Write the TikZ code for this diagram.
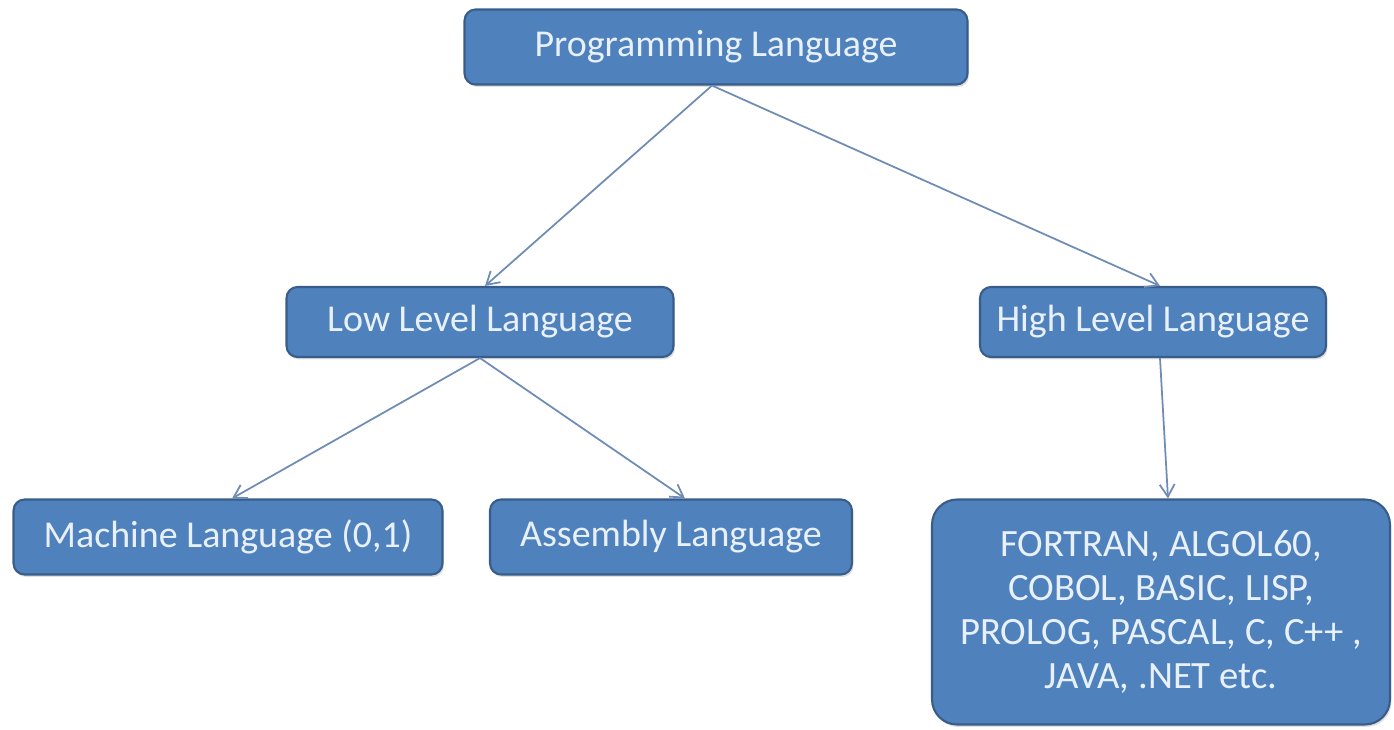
\documentclass[tikz,border=0pt]{standalone}
\usepackage{fontspec}
\setmainfont{Carlito}
\usetikzlibrary{arrows.meta,shadows}
\definecolor{boxfill}{RGB}{79,129,189}
\definecolor{boxline}{RGB}{56,93,138}
\definecolor{boxtext}{RGB}{232,240,250}
\definecolor{arrowc}{RGB}{110,140,180}
\begin{document}
\begin{tikzpicture}[x=0.02cm,y=-0.02cm,
  langbox/.style={draw=boxline, line width=1.2pt, fill=boxfill, rounded corners=0.22cm,
    text=boxtext, font=\fontsize{21.6}{26}\selectfont, align=center, inner sep=0pt,
    drop shadow={shadow xshift=0.03cm, shadow yshift=-0.05cm, opacity=0.25}},
  conn/.style={draw=arrowc, line width=1pt, -{Straight Barb[length=2.5mm,width=3mm]}}]
\useasboundingbox (0,0) rectangle (1394,730);
\node[langbox, minimum width=10.06cm, minimum height=1.5cm] (top) at (716,47) {Programming Language};
\node[langbox, minimum width=7.74cm, minimum height=1.4cm] (low) at (480,322) {Low Level Language};
\node[langbox, minimum width=6.92cm, minimum height=1.4cm] (high) at (1153,322) {High Level Language};
\node[langbox, minimum width=8.58cm, minimum height=1.5cm] (mach) at (228,537) {Machine Language (0,1)};
\node[langbox, minimum width=7.24cm, minimum height=1.5cm] (asm) at (671,537) {Assembly Language};
\node[langbox, rounded corners=0.5cm, minimum width=9.16cm, minimum height=4.5cm,
  font=\fontsize{22}{25}\selectfont] (hll) at (1161,612)
  {FORTRAN, ALGOL60,\\COBOL, BASIC, LISP,\\PROLOG, PASCAL, C, C++ ,\\JAVA, .NET etc.};
\draw[conn] ([xshift=-0.08cm]top.south) -- ([xshift=0.1cm]low.north);
\draw[conn] ([xshift=-0.08cm]top.south) -- ([xshift=0.14cm]high.north);
\draw[conn] (low.south) -- ([xshift=0.08cm]mach.north);
\draw[conn] (low.south) -- ([xshift=0.28cm]asm.north);
\draw[conn] ([xshift=0.14cm]high.south) -- ([xshift=0.14cm]hll.north);
\end{tikzpicture}
\end{document}
